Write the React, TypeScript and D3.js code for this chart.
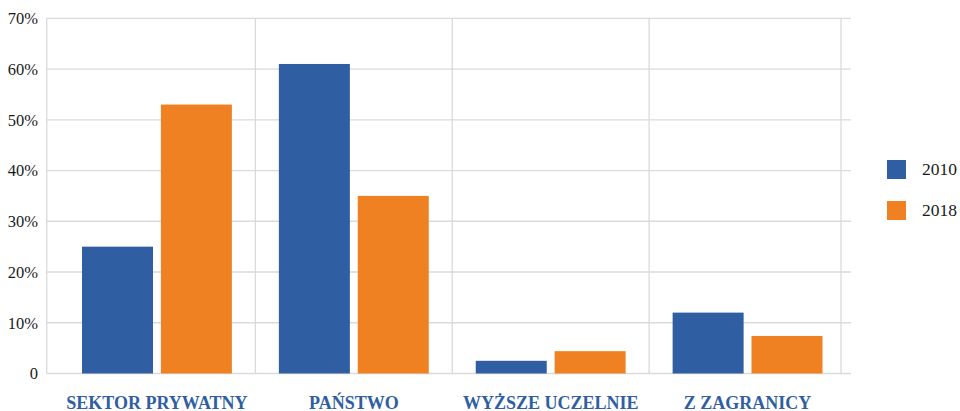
import * as d3 from "d3"

const categories = ["SEKTOR PRYWATNY", "PAŃSTWO", "WYŻSZE UCZELNIE", "Z ZAGRANICY"]
const years = ["2010", "2018"]
const values2010 = [25, 61, 2.5, 12]
const values2018 = [53, 35, 4.4, 7.4]
const yTicks = [0, 10, 20, 30, 40, 50, 60, 70]
const colors = ["#2F5EA3", "#EF8122"]

const W = 960
const H = 411

export default function App() {
  const plotLeft = 46.7
  const plotRight = 851
  const y = d3.scaleLinear().domain([0, 70]).range([373.5, 18.3])
  const x = d3.scaleBand<string>().domain(categories).range([58.5, 846]).padding(0)
  const x1 = d3
    .scaleBand<string>()
    .domain(years)
    .range([23.5, x.bandwidth() - 23.5])
    .paddingInner(0.1)
  const series = [values2010, values2018]
  const grid = "#dadada"

  return (
    <svg
      width={W}
      height={H}
      style={{
        position: "absolute",
        left: 0,
        top: 0,
        background: "#fff",
        fontFamily: '"Liberation Serif", "Times New Roman", Times, serif',
      }}
    >
      {yTicks.map((t) => (
        <g key={t}>
          <line x1={plotLeft} x2={plotRight} y1={y(t)} y2={y(t)} stroke={grid} strokeWidth={1.3} />
          <text x={38} y={y(t)} dy="0.35em" textAnchor="end" fontSize={16.5} fill="#1a1a1a">
            {t === 0 ? "0" : `${t}%`}
          </text>
        </g>
      ))}
      <line x1={plotLeft} x2={plotLeft} y1={y(70)} y2={y(0)} stroke={grid} strokeWidth={1.3} />
      {categories.slice(1).map((c) => (
        <line key={c} x1={x(c)!} x2={x(c)!} y1={y(70)} y2={y(0)} stroke={grid} strokeWidth={1.3} />
      ))}
      <line
        x1={x.range()[1] - 5}
        x2={x.range()[1] - 5}
        y1={y(70)}
        y2={y(0)}
        stroke={grid}
        strokeWidth={1.3}
      />
      {categories.map((c, i) => (
        <g key={c} transform={`translate(${x(c)},0)`}>
          {years.map((yr, j) => (
            <rect
              key={yr}
              x={x1(yr)}
              width={x1.bandwidth()}
              y={y(series[j][i])}
              height={y(0) - y(series[j][i])}
              fill={colors[j]}
            />
          ))}
          <text
            x={x.bandwidth() / 2}
            y={408.5}
            textAnchor="middle"
            fontWeight="bold"
            fontSize={18}
            fill="#2F5EA3"
          >
            {c}
          </text>
        </g>
      ))}
      {years.map((yr, j) => (
        <g key={yr} transform={`translate(887,${160 + j * 41})`}>
          <rect width={19} height={19} fill={colors[j]} />
          <text x={35} y={14.5} fontSize={17.5} fill="#1a1a1a">
            {yr}
          </text>
        </g>
      ))}
    </svg>
  )
}
